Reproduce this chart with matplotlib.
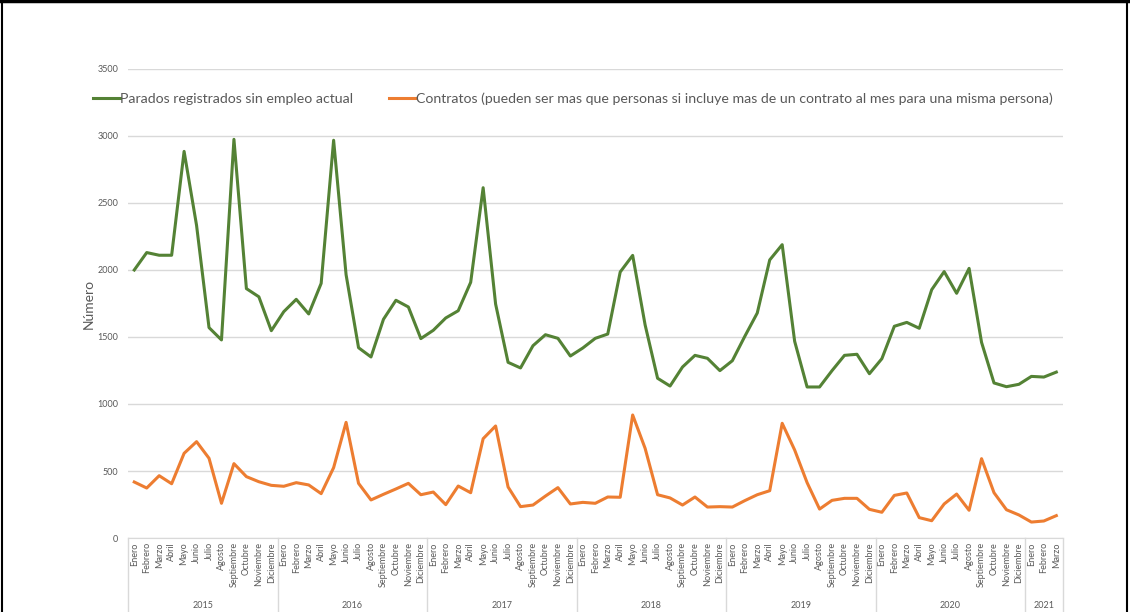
import numpy as np
import matplotlib.pyplot as plt
from matplotlib.lines import Line2D
from matplotlib.transforms import blended_transform_factory

plt.rcParams['font.family'] = ['Lato', 'DejaVu Sans']

meses = ['Enero', 'Febrero', 'Marzo', 'Abril', 'Mayo', 'Junio', 'Julio',
         'Agosto', 'Septiembre', 'Octubre', 'Noviembre', 'Diciembre']
years = ['2015', '2016', '2017', '2018', '2019', '2020', '2021']
months_per_year = [12, 12, 12, 12, 12, 12, 3]

parados = [2000, 2130, 2110, 2110, 2885, 2333, 1570, 1478, 2975, 1861, 1800, 1547,
           1689, 1781, 1672, 1900, 2968, 1965, 1420, 1351, 1632, 1774, 1724, 1488,
           1550, 1642, 1696, 1908, 2614, 1746, 1311, 1269, 1435, 1517, 1490, 1358,
           1418, 1490, 1522, 1985, 2109, 1590, 1192, 1134, 1276, 1363, 1341, 1249,
           1323, 1505, 1679, 2075, 2189, 1468, 1127, 1127, 1249, 1363, 1371, 1226,
           1338, 1580, 1609, 1565, 1853, 1988, 1826, 2012, 1460, 1157, 1129, 1147,
           1206, 1201, 1238]

contratos = [418, 373, 465, 405, 632, 719, 595, 259, 555, 458, 420, 393,
             386, 413, 396, 331, 525, 863, 408, 284, 326, 366, 408, 323,
             343, 249, 388, 338, 741, 836, 381, 234, 246, 313, 376, 254,
             266, 259, 306, 304, 918, 669, 323, 299, 246, 306, 231, 234,
             231, 279, 323, 353, 856, 657, 413, 216, 281, 296, 296, 214,
             192, 318, 336, 152, 129, 254, 328, 207, 592, 338, 211, 172,
             119, 127, 167]

labels = []
for n in months_per_year:
    labels += meses[:n]
x = np.arange(len(parados))

fig = plt.figure(figsize=(11.3, 6.12), dpi=100)
ax = fig.add_axes([0.1133, 0.1209, 0.8270, 0.7664])

green = '#548235'
orange = '#ED7D31'
grey = '#595959'

ax.plot(x, parados, color=green, lw=2.2, solid_joinstyle='round',
        label='Parados registrados sin empleo actual')
ax.plot(x, contratos, color=orange, lw=2.2, solid_joinstyle='round',
        label='Contratos (pueden ser mas que personas si incluye mas de un contrato al mes para una misma persona)')

ax.set_xlim(-0.5, len(x) - 0.5)
ax.set_ylim(0, 3500)
ax.set_yticks(np.arange(0, 3501, 500))
ax.grid(axis='y', color='#D9D9D9', lw=1)
ax.set_axisbelow(True)
for s in ['top', 'right', 'left']:
    ax.spines[s].set_visible(False)
ax.spines['bottom'].set_color('#D9D9D9')
ax.tick_params(axis='y', length=0, labelsize=6.5, labelcolor=grey, pad=7)
ax.set_xticks(x)
ax.set_xticklabels(labels, rotation=90, fontsize=6.5, color=grey)
ax.tick_params(axis='x', length=0, pad=3)
ax.set_ylabel('Número', fontsize=10, color=grey)
ax.yaxis.set_label_coords(-0.036, 0.5)

# year groups
trans = blended_transform_factory(ax.transData, ax.transAxes)
start = 0
bounds = [-0.5]
for yr, n in zip(years, months_per_year):
    ax.text(start + (n - 1) / 2, -0.143, yr, transform=trans, ha='center',
            va='center', fontsize=6.5, color=grey)
    start += n
    bounds.append(start - 0.5)
for b in bounds:
    ax.plot([b, b], [0, -0.17], transform=trans, color='#D9D9D9', lw=1,
            clip_on=False)

ax.legend(loc='upper left', bbox_to_anchor=(0.071, 0.870),
          bbox_transform=fig.transFigure, ncol=2, frameon=False,
          fontsize=10.15, handlelength=1.9, handletextpad=0.0,
          columnspacing=2.6, labelcolor=grey)

# outer frame
fig.add_artist(Line2D([0, 1], [0.998, 0.998], color='black', lw=2.5))
fig.add_artist(Line2D([0.002, 0.002], [0, 1], color='black', lw=1.5))
fig.add_artist(Line2D([0.9975, 0.9975], [0, 1], color='black', lw=1.5))

plt.savefig('out.png', dpi=100)
